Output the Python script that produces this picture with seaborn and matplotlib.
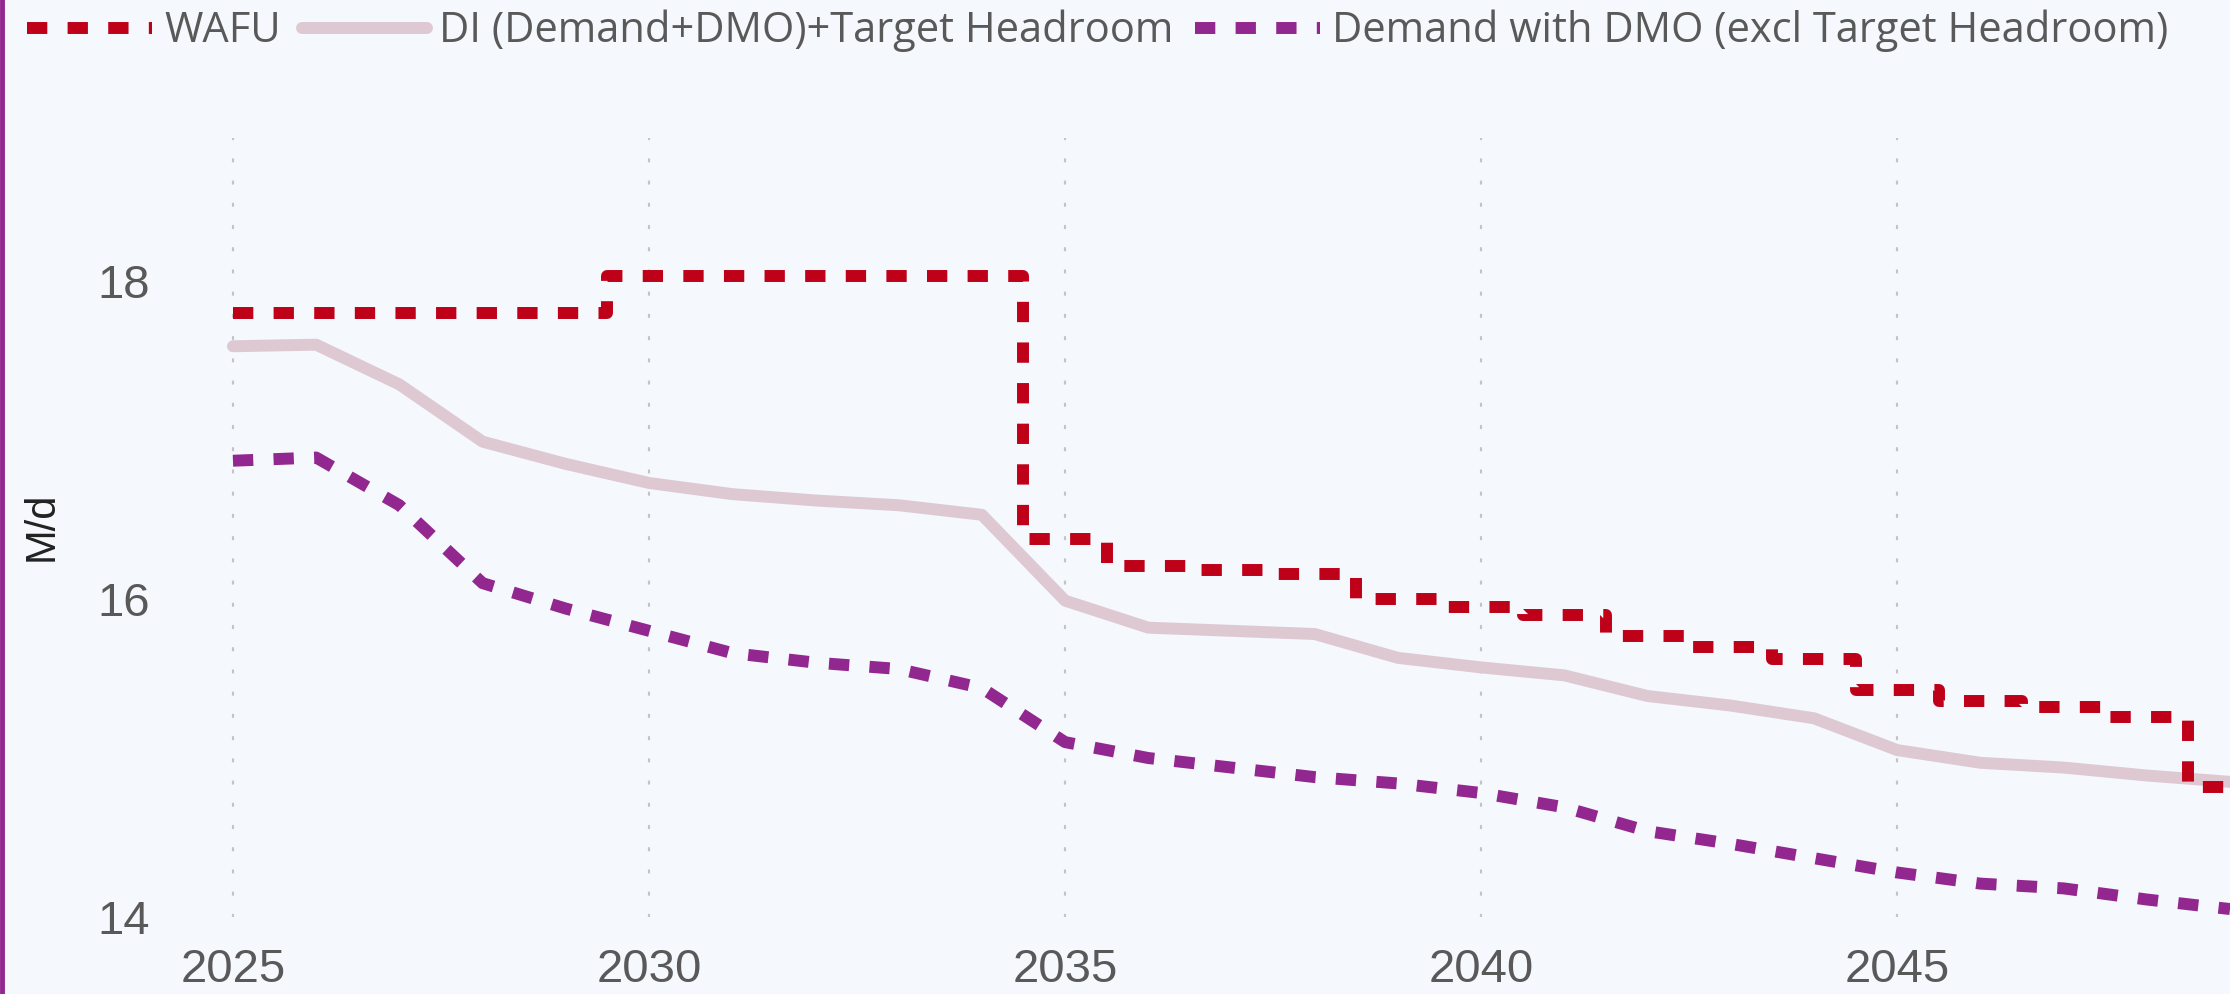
import matplotlib
matplotlib.use("Agg")
import matplotlib.pyplot as plt
import seaborn as sns
import pandas as pd
from matplotlib.lines import Line2D

# values (M/d)
YEARS = [2025, 2026, 2027, 2028, 2029, 2030, 2031, 2032, 2033, 2034,
         2035, 2036, 2037, 2038, 2039, 2040, 2041, 2042, 2043, 2044,
         2045, 2046, 2047, 2048, 2049]
WAFU = [17.80, 17.80, 17.80, 17.80, 17.80, 18.03, 18.03, 18.03, 18.03, 18.03,
        16.38, 16.21, 16.18, 16.16, 16.00, 15.95, 15.90, 15.77, 15.70, 15.62,
        15.43, 15.36, 15.32, 15.26, 14.82]
DI = [17.59, 17.60, 17.35, 16.99, 16.85, 16.73, 16.66, 16.62, 16.59, 16.53,
      15.99, 15.82, 15.80, 15.78, 15.63, 15.57, 15.52, 15.39, 15.33, 15.25,
      15.05, 14.97, 14.94, 14.89, 14.85]
DEMAND = [16.87, 16.89, 16.59, 16.10, 15.94, 15.80, 15.66, 15.60, 15.56, 15.44,
          15.10, 15.00, 14.94, 14.88, 14.84, 14.78, 14.69, 14.54, 14.46, 14.37,
          14.28, 14.21, 14.18, 14.11, 14.05]

LABELS = ["WAFU", "DI (Demand+DMO)+Target Headroom",
          "Demand with DMO (excl Target Headroom)"]
X_TICKS = [2025, 2030, 2035, 2040, 2045]
Y_TICKS = [14, 16, 18]

RED = "#BE0019"
PINK = "#DEC9D3"
PURPLE = "#92278F"
BG = "#F5F8FD"
TXT = "#595959"

W, H = 2230, 994


def main():
    sns.set_theme(style="white")
    plt.rcParams["font.family"] = ["Liberation Sans", "DejaVu Sans"]

    df = pd.DataFrame({"year": YEARS, "wafu": WAFU, "di": DI, "demand": DEMAND})

    fig = plt.figure(figsize=(W / 100, H / 100), dpi=100, facecolor=BG)
    left = 174.7
    bottom = 77
    ax = fig.add_axes([left / W, bottom / H, (W - left) / W, 779 / H])
    ax.set_facecolor(BG)

    # pink under, dashed lines on top
    sns.lineplot(data=df, x="year", y="di", ax=ax, color=PINK, lw=8.6,
                 solid_capstyle="round", zorder=3, label=LABELS[1])
    sns.lineplot(data=df, x="year", y="demand", ax=ax, color=PURPLE, lw=8.6,
                 linestyle=(0, (1.7, 1.7)), dash_capstyle="butt",
                 zorder=4, label=LABELS[2])
    sns.lineplot(data=df, x="year", y="wafu", ax=ax, color=RED, lw=8.6,
                 drawstyle="steps-mid", linestyle=(0, (1.7, 1.7)),
                 dash_capstyle="butt", dash_joinstyle="round",
                 zorder=5, label=LABELS[0])
    ax.get_legend().remove()

    ax.set_xlim(2024.3, 2049)
    ax.set_ylim(14, 18.9)
    ax.set_xticks(X_TICKS)
    ax.set_yticks(Y_TICKS)
    ax.grid(axis="x", color="#C4C4C4", linestyle=(0, (1, 9)), lw=1.6,
            dash_capstyle="round")
    ax.grid(axis="y", visible=False)
    for s in ax.spines.values():
        s.set_visible(False)
    ax.tick_params(axis="both", length=0, labelsize=34, labelcolor=TXT)
    ax.tick_params(axis="x", pad=22)
    ax.tick_params(axis="y", pad=18)

    ax.set_xlabel("")
    ax.set_ylabel("M/d", fontsize=30, color="#222222")
    ax.yaxis.set_label_coords((62 - left) / (W - left), 0.502)

    # legend across the top
    handles = [
        Line2D([], [], color=RED, lw=8.6, linestyle=(0, (1.7, 1.7)),
               dash_capstyle="butt"),
        Line2D([], [], color=PINK, lw=8.6, solid_capstyle="round"),
        Line2D([], [], color=PURPLE, lw=8.6, linestyle=(0, (1.7, 1.7)),
               dash_capstyle="butt"),
    ]
    fig.legend(handles, LABELS, loc="center left",
               bbox_to_anchor=(27 / W, 1 - 31 / H), ncol=3, frameon=False,
               borderaxespad=0, borderpad=0, handlelength=3.0,
               handletextpad=0.3, columnspacing=0.5,
               prop={"family": ["Open Sans", "DejaVu Sans"], "size": 30},
               labelcolor=TXT)

    # purple bar down the left edge
    fig.add_artist(Line2D([2 / W, 2 / W], [0, 1], color=PURPLE, lw=3.5,
                          transform=fig.transFigure))

    fig.savefig("out.png", dpi=100, facecolor=BG)


if __name__ == "__main__":
    main()
